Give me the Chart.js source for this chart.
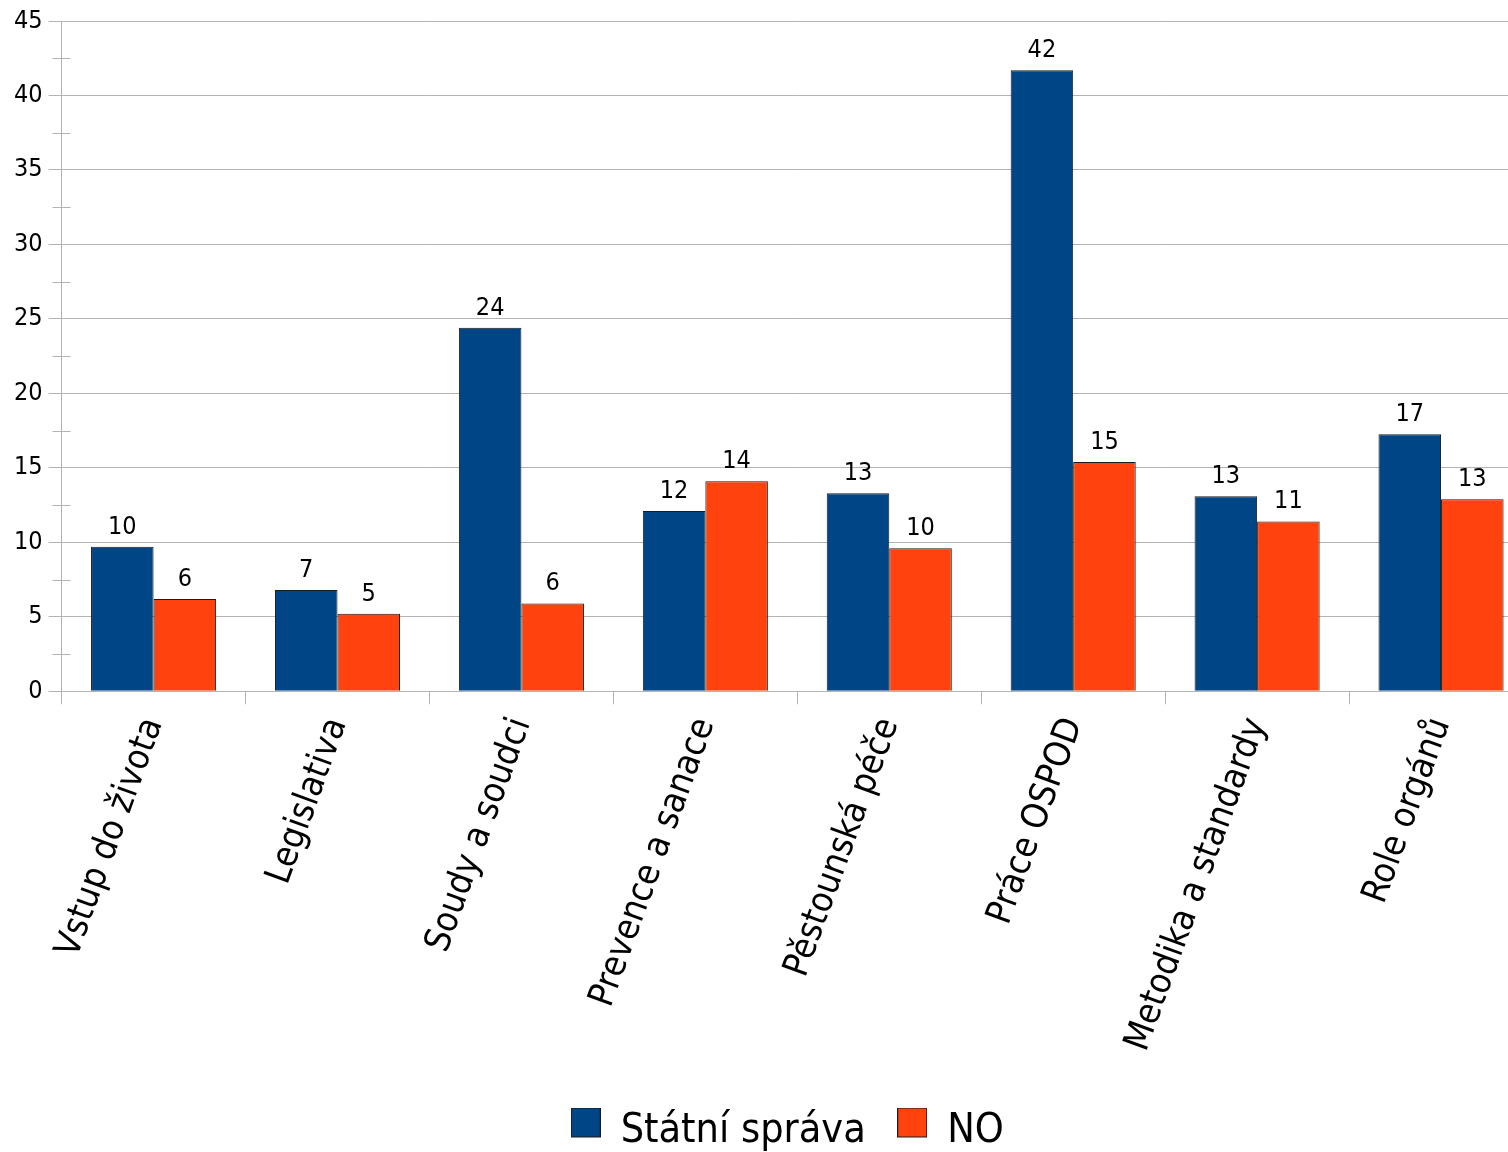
<!DOCTYPE html>
<html>
<head>
<meta charset="utf-8">
<script src="https://cdn.jsdelivr.net/npm/chart.js@4.4.1/dist/chart.umd.min.js"></script>
<style>
  html, body { margin: 0; padding: 0; background: #fff; overflow: hidden; }
  #wrap { width: 1574px; height: 1152px; }
</style>
</head>
<body>
<div id="wrap"><canvas id="chart"></canvas></div>
<script>
// categories and values
const categories = [
  "Vstup do života", "Legislativa", "Soudy a soudci", "Prevence a sanace",
  "Pěstounská péče", "Práce OSPOD", "Metodika a standardy", "Role orgánů"
];
const statniSprava = [9.7, 6.8, 24.4, 12.1, 13.3, 41.7, 13.1, 17.25];
const no = [6.2, 5.2, 5.9, 14.1, 9.6, 15.4, 11.4, 12.9];
const yTicks = [0, 5, 10, 15, 20, 25, 30, 35, 40, 45];

const FONT = "'DejaVu Sans Condensed', 'DejaVu Sans', sans-serif";
const GRID = "#b3b3b3";
const BLUE = "#004586";
const ORANGE = "#ff420e";

// legend swatch, sitting a little above the text middle like in the original
function swatch(color) {
  const c = document.createElement("canvas");
  c.width = 30;
  c.height = 48;
  const g = c.getContext("2d");
  g.fillStyle = color;
  g.fillRect(0.5, 0.5, 29, 29);
  g.strokeStyle = "#1a1a1a";
  g.lineWidth = 1;
  g.strokeRect(0.5, 0.5, 29, 29);
  return c;
}

// value labels above each bar
const valueLabels = {
  id: "valueLabels",
  afterDatasetsDraw(chart) {
    const ctx = chart.ctx;
    ctx.save();
    ctx.font = "25px " + FONT;
    ctx.fillStyle = "#000";
    ctx.textAlign = "center";
    ctx.textBaseline = "alphabetic";
    chart.data.datasets.forEach((ds, i) => {
      chart.getDatasetMeta(i).data.forEach((bar, j) => {
        ctx.fillText(String(Math.round(ds.data[j])), bar.x, bar.y - 13);
      });
    });
    ctx.restore();
  }
};

// small ticks halfway between the labelled ones
const minorTicks = {
  id: "minorTicks",
  afterDraw(chart) {
    const y = chart.scales.y;
    const x0 = chart.chartArea.left;
    const ctx = chart.ctx;
    ctx.save();
    ctx.strokeStyle = GRID;
    ctx.lineWidth = 1;
    for (let i = 0; i < yTicks.length - 1; i++) {
      const py = Math.round(y.getPixelForValue((yTicks[i] + yTicks[i + 1]) / 2)) + 0.5;
      ctx.beginPath();
      ctx.moveTo(x0 - 9, py);
      ctx.lineTo(x0 + 9, py);
      ctx.stroke();
    }
    ctx.restore();
  }
};

// legend is centred on the whole page, not just the padded area
const legendShift = {
  id: "legendShift",
  afterLayout(chart) {
    chart.legend.left += 17;
    chart.legend.right += 17;
  }
};

new Chart(document.getElementById("chart"), {
  type: "bar",
  data: {
    labels: categories,
    datasets: [
      {
        label: "Státní správa",
        data: statniSprava,
        backgroundColor: BLUE,
        borderColor: "#1a1a1a",
        borderWidth: 1
      },
      {
        label: "NO",
        data: no,
        backgroundColor: ORANGE,
        borderColor: "#1a1a1a",
        borderWidth: 1
      }
    ]
  },
  options: {
    responsive: true,
    maintainAspectRatio: false,
    animation: false,
    layout: { padding: { left: 8, right: 41, top: 14, bottom: -10 } },
    datasets: {
      bar: { categoryPercentage: 0.68, barPercentage: 1 }
    },
    plugins: {
      tooltip: { enabled: false },
      legend: {
        position: "bottom",
        labels: {
          font: { family: FONT, size: 41 },
          color: "#000",
          boxWidth: 29,
          boxHeight: 29,
          padding: 32,
          usePointStyle: true,
          generateLabels(chart) {
            return chart.data.datasets.map((ds, i) => ({
              text: ds.label,
              fillStyle: ds.backgroundColor,
              strokeStyle: "#1a1a1a",
              lineWidth: 1,
              pointStyle: swatch(ds.backgroundColor),
              datasetIndex: i
            }));
          }
        }
      }
    },
    scales: {
      x: {
        afterFit(scale) {
          scale.height += 14;
        },
        grid: {
          offset: true,
          drawOnChartArea: false,
          drawTicks: true,
          tickLength: 13,
          color: GRID
        },
        border: { color: GRID },
        ticks: {
          font: { family: FONT, size: 36 },
          color: "#000",
          minRotation: 70,
          maxRotation: 70,
          autoSkip: false,
          padding: 8
        }
      },
      y: {
        min: 0,
        max: 45,
        afterBuildTicks(scale) {
          scale.ticks = yTicks.map(v => ({ value: v }));
        },
        grid: { color: GRID, tickLength: 13 },
        border: { color: GRID },
        ticks: {
          font: { family: FONT, size: 25 },
          color: "#000",
          padding: 6
        }
      }
    }
  },
  plugins: [valueLabels, minorTicks, legendShift]
});
</script>
</body>
</html>
